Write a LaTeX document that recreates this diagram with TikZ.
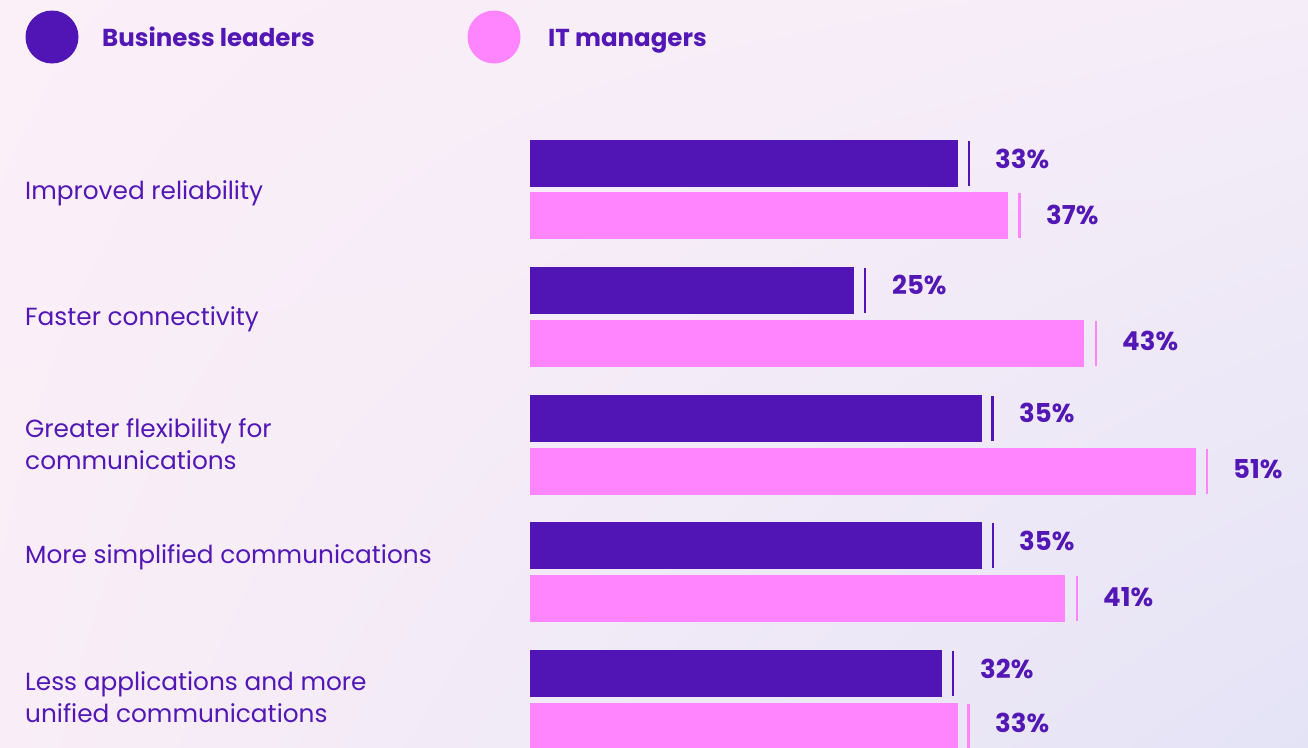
\documentclass[tikz,border=0pt]{standalone}
\usepackage{fontspec}
\setmainfont{Poppins}
\usetikzlibrary{shadings}
\definecolor{bizc}{HTML}{5115B5}
\definecolor{itc}{HTML}{FF85FF}
\definecolor{txtc}{HTML}{5217B5}
\definecolor{bgul}{HTML}{FBEFF8}
\definecolor{bgur}{HTML}{F5EDF8}
\definecolor{bgll}{HTML}{F9EEF7}
\definecolor{bglr}{HTML}{E4E3F6}
\begin{document}
\begin{tikzpicture}[x=1pt,y=-1pt,
  bizbar/.style={fill=bizc,draw=none},
  itbar/.style={fill=itc,draw=none},
  biztick/.style={draw=bizc,line width=2.2pt},
  ittick/.style={draw=itc,line width=2.2pt},
  pct/.style={anchor=base west,text=txtc,font=\fontsize{26}{28}\selectfont\bfseries,inner sep=0pt},
  cat/.style={anchor=base west,text=txtc,font=\fontsize{24.8}{32}\selectfont,align=left,inner sep=0pt},
  legtxt/.style={anchor=base west,text=txtc,font=\fontsize{24.5}{28}\selectfont\bfseries,inner sep=0pt}]
\useasboundingbox (0,0) rectangle (1308,747);
\shade[upper left=bgul,upper right=bgur,lower left=bgll,lower right=bglr] (0,0) rectangle (1308,747);
% legend
\fill[bizc] (52,37) circle (26.5);
\node[legtxt] (lb) at (102,46) {Business leaders};
\fill[itc] (494,37) circle (26.5);
\node[legtxt] (li) at (548,46) {IT managers};
% categories
\node[cat] (c1) at (25,199) {Improved reliability};
\node[cat] (c2) at (25,325) {Faster connectivity};
\node[cat] (c3) at (25,469) {Greater flexibility for\\communications};
\node[cat] (c4) at (25,563) {More simplified communications};
\node[cat] (c5) at (25,722) {Less applications and more\\unified communications};
% bars: group 1
\fill[bizbar] (530,140) rectangle (958,187);
\draw[biztick] (969,141) -- (969,186);
\node[pct] (p1a) at (995,168) {33\%};
\fill[itbar] (530,192) rectangle (1008,239);
\draw[ittick] (1019.5,193) -- (1019.5,238);
\node[pct] (p1b) at (1046,224) {37\%};
% group 2
\fill[bizbar] (530,267) rectangle (854,314);
\draw[biztick] (865,268) -- (865,313);
\node[pct] (p2a) at (892,294) {25\%};
\fill[itbar] (530,320) rectangle (1084,367);
\draw[ittick] (1096,321) -- (1096,366);
\node[pct] (p2b) at (1122,350) {43\%};
% group 3
\fill[bizbar] (530,395) rectangle (982,442);
\draw[biztick] (992.5,396) -- (992.5,441);
\node[pct] (p3a) at (1019,422) {35\%};
\fill[itbar] (530,448) rectangle (1196,495);
\draw[ittick] (1207,449) -- (1207,494);
\node[pct] (p3b) at (1233,478) {51\%};
% group 4
\fill[bizbar] (530,522) rectangle (982,569);
\draw[biztick] (993,523) -- (993,568);
\node[pct] (p4a) at (1019,550) {35\%};
\fill[itbar] (530,575) rectangle (1065,622);
\draw[ittick] (1077,576) -- (1077,621);
\node[pct] (p4b) at (1103,606) {41\%};
% group 5
\fill[bizbar] (530,650) rectangle (942,697);
\draw[biztick] (953,651) -- (953,696);
\node[pct] (p5a) at (980,678) {32\%};
\fill[itbar] (530,703) rectangle (958,750);
\draw[ittick] (968.5,704) -- (968.5,750);
\node[pct] (p5b) at (995,732) {33\%};
\end{tikzpicture}
\end{document}
